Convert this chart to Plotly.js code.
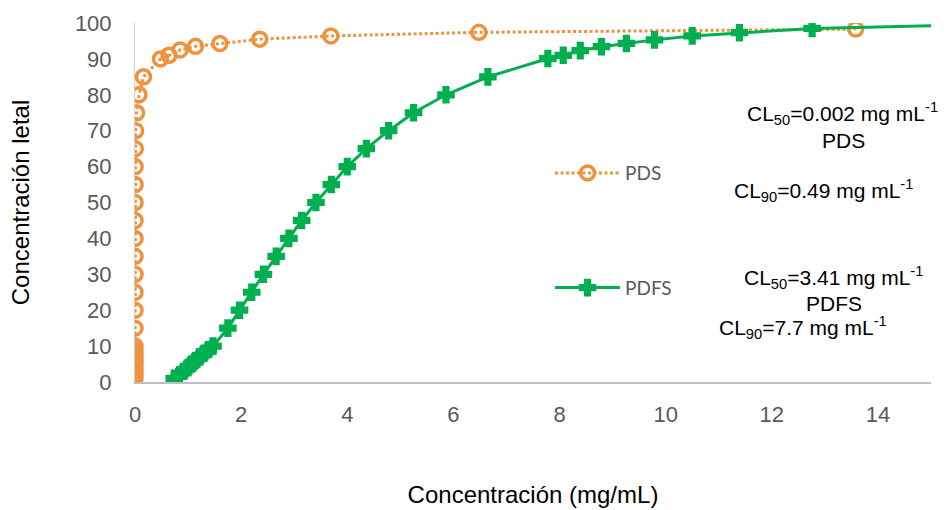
<!DOCTYPE html>
<html>
<head>
<meta charset="utf-8">
<script src="https://cdn.plot.ly/plotly-3.0.1.min.js"></script>
<style>html,body{margin:0;padding:0;background:#fff;}#chart{width:948px;height:510px;}</style>
</head>
<body>
<div id="chart"></div>
<script>
// PDS series (concentration mg/mL, % lethality)
const pdsX = [0.00001,0.00002,0.00003,0.00005,0.00007,0.0001,0.00013,0.00016,0.0002,0.00025,
              0.0004,0.0006,0.0008,0.001,0.0012,0.0014,0.0017,0.002,0.003,0.004,0.006,0.012,0.03,0.075,
              0.16,0.48,0.64,0.85,1.14,1.6,2.35,3.69,6.48,13.58];
const pdsY = [1,2,3,4,5,6,7,8,9,10,
              15,20,25,30,35,40,45,50,55,60,65,70,75,80,
              85,90,91,92.5,93.5,94.3,95.5,96.4,97.4,98.3];
// PDFS series
const pdfsX = [0.74,0.84,0.92,1.0,1.07,1.14,1.22,1.3,1.38,1.47,
               1.75,1.97,2.2,2.42,2.66,2.9,3.14,3.41,3.7,4.0,4.36,4.78,5.25,5.86,6.65,
               7.78,8.07,8.39,8.79,9.26,9.79,10.5,11.39,12.76,16.5];
const pdfsY = [1,2,3,4,5,6,7,8,9,10,
               15,20,25,30,35,40,45,50,55,60,65,70,75,80,85,
               90.1,91,92.3,93.4,94.3,95.3,96.4,97.3,98.5,99.7];
const xTicks = [0,2,4,6,8,10,12,14];
const yTicks = [0,10,20,30,40,50,60,70,80,90,100];
const seriesNames = ["PDS","PDFS"];
const notes = [
  "CL<sub>50</sub>=0.002 mg mL<sup>-1</sup>",
  "PDS",
  "CL<sub>90</sub>=0.49 mg mL<sup>-1</sup>",
  "CL<sub>50</sub>=3.41 mg mL<sup>-1</sup>",
  "PDFS",
  "CL<sub>90</sub>=7.7 mg mL<sup>-1</sup>"
];

const ORANGE = "#F0913C", GREEN = "#00B050";
const traces = [
  {x: pdsX, y: pdsY, name: seriesNames[0], type: "scatter", mode: "lines+markers",
   legendgroup: "a",
   line: {color: ORANGE, width: 3, dash: "3px,2.5px"},
   marker: {symbol: "circle-open", size: 14, color: ORANGE, line: {width: 3.5, color: ORANGE}}},
  {x: pdfsX, y: pdfsY, name: seriesNames[1], type: "scatter", mode: "lines+markers",
   legendgroup: "b",
   line: {color: GREEN, width: 3},
   marker: {symbol: "cross", size: 13, color: GREEN, line: {width: 2, color: GREEN}}}
];

const annFont = {family: "Liberation Sans, Arial, sans-serif", size: 21, color: "#000"};
const annPos = [[842,113],[843,140],[823,190],[833,277],[834,303],[803,327]];
const annotations = notes.map((t, i) => ({
  text: t, xref: "paper", yref: "paper",
  x: (annPos[i][0] - 135) / 796, y: (382 - annPos[i][1]) / 359,
  xanchor: "center", yanchor: "middle", showarrow: false, font: annFont
}));

const layout = {
  width: 948, height: 510,
  margin: {l: 135, r: 17, t: 23, b: 128},
  paper_bgcolor: "#fff", plot_bgcolor: "#fff",
  showlegend: true,
  legend: {x: 0.5214, y: 0.635, xanchor: "left", yanchor: "top",
           traceorder: "grouped", tracegroupgap: 87, itemwidth: 65,
           font: {family: "Lato, Open Sans, sans-serif", size: 19, color: "#595959"},
           bgcolor: "rgba(0,0,0,0)"},
  xaxis: {range: [0, 15], tickvals: xTicks, ticktext: xTicks.map(String),
          showgrid: false, zeroline: false, showline: true, linecolor: "#BFBFBF", linewidth: 1.5,
          ticks: "", ticklabelstandoff: 12,
          tickfont: {family: "Liberation Sans, Arial, sans-serif", size: 22, color: "#595959"},
          title: {text: "Concentración (mg/mL)", standoff: 60,
                  font: {family: "Liberation Sans, Arial, sans-serif", size: 24, color: "#000"}}},
  yaxis: {range: [0, 100], tickvals: yTicks, ticktext: yTicks.map(String),
          showgrid: false, zeroline: false, showline: true, linecolor: "#D0D0D0", linewidth: 1,
          ticks: "", ticklabelstandoff: 18,
          tickfont: {family: "Liberation Sans, Arial, sans-serif", size: 22, color: "#595959"},
          title: {text: "Concentración letal", standoff: 38,
                  font: {family: "Liberation Sans, Arial, sans-serif", size: 24, color: "#000"}}},
  annotations: annotations
};

Plotly.newPlot("chart", traces, layout, {displayModeBar: false, staticPlot: true});
</script>
</body>
</html>
